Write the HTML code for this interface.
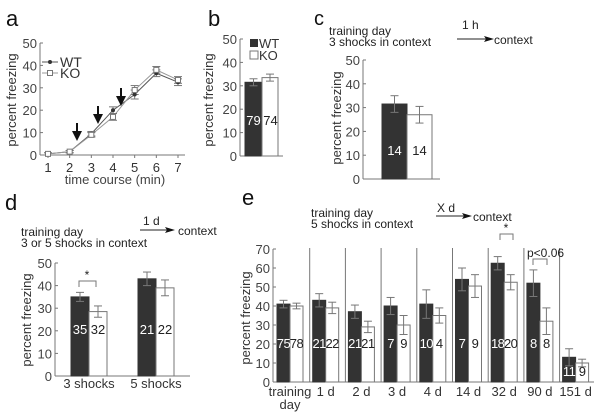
<!DOCTYPE html>
<html><head><meta charset="utf-8"><style>
body{margin:0;background:#fff}
svg{display:block;font-family:"Liberation Sans",sans-serif}
</style></head><body>
<svg id="fig" width="600" height="417" viewBox="0 0 600 417"></svg>
<script>
// Panel a
const aTimes=[1,2,3,4,5,6,7];
const aWT=[0.5,1.5,9.5,20,27,36.5,32.5];
const aKO=[0.5,1.5,9,17,29,38,33.5];
const aErr=[0.5,0.5,1,1.5,2,1.5,1.5];
// Panel b
const bVals=[31.5,33.5]; const bErr=[1.5,1.5]; const bN=["79","74"];
// Panel c
const cVals=[31.5,27]; const cErr=[3.5,3.5]; const cN=["14","14"];
// Panel d
const dCats=["3 shocks","5 shocks"];
const dWT=[35,43]; const dKO=[28.5,39];
const dWTerr=[2,3]; const dKOerr=[2.5,3.5];
const dWTn=["35","21"]; const dKOn=["32","22"];
// Panel e
const eCats=["training","1 d","2 d","3 d","4 d","14 d","32 d","90 d","151 d"];
const eWT=[41,43,37,40,41,54,62.5,52,13];
const eKO=[40,39,29,30,35,50.5,52.5,32,10];
const eWTerr=[2,3.5,3.5,4.5,7.5,6,3.5,7,4.5];
const eKOerr=[1.5,3,3,5,4,6,4,7,2];
const eWTn=["75","21","21","7","10","7","18","8","11"];
const eKOn=["78","22","21","9","4","9","20","8","9"];
const yTicks50=[0,10,20,30,40,50];
const yTicks70=[0,10,20,30,40,50,60,70];

const svg=document.getElementById('fig');
const NS="http://www.w3.org/2000/svg";
function el(tag,attrs,name,txt){const e=document.createElementNS(NS,tag);for(const k in attrs)e.setAttribute(k,attrs[k]);


if(txt!==undefined)e.textContent=txt;svg.appendChild(e);return e;}
const G="#777",DARK="#333";
function line(x1,y1,x2,y2,name,c,w){return el('line',{x1,y1,x2,y2,stroke:c||G,'stroke-width':w||1},name);}
function text(x,y,s,name,size,anchor,fill,extra){const a={x,y,'font-size':size||12,'text-anchor':anchor||'start',fill:fill||'#222'};Object.assign(a,extra||{});return el('text',a,name,s);}
function yAxis(x,yf,ticks,y0,y1,name){line(x,yf(y1),x,yf(y0),name+'-y-axis');ticks.forEach(t=>{line(x,yf(t),x+3,yf(t),name+'-y-tick');text(x-3,yf(t)+5,String(t),name+'-y-tick-label',13,'end','#444');});}
function ylab(x,y,name){text(0,0,'percent freezing',name,13,'middle','#333',{transform:`translate(${x},${y}) rotate(-90)`});}
function errbar(x,v,e,yf,name){line(x,yf(v+e),x,yf(v-e),name);line(x-4,yf(v+e),x+4,yf(v+e),name);line(x-4,yf(v-e),x+4,yf(v-e),name);}
function bar(x,w,v,yf,dark,name){el('rect',{x,y:yf(v),width:w,height:yf(0)-yf(v),fill:dark?DARK:'#fff',stroke:dark?DARK:G,'stroke-width':1},name);}
function arrow(x1,x2,y,name){line(x1,y,x2,y,name,'#222');el('polygon',{points:`${x2+8},${y} ${x2-2},${y-3} ${x2},${y} ${x2-2},${y+3}`,fill:'#111'},name+'-head');}

// ---- Panel a
text(6,26,'a','panel-a-label',22,'start','#111');
const ay=v=>155-v*(112/50), ax=t=>48+(t-1)*(130/6);
yAxis(40,ay,yTicks50,0,50,'a');
line(40,155,185,155,'a-x-axis');
aTimes.forEach(t=>{line(ax(t),155,ax(t),158,'a-x-tick');text(ax(t),172,String(t),'a-x-tick-label',13,'middle','#333');});
text(115,184,'time course (min)','a-x-axis-title',13,'middle','#444');
ylab(16,100,'a-y-axis-title');
const wtPts=aTimes.map((t,i)=>ax(t)+','+ay(aWT[i])).join(' ');
const koPts=aTimes.map((t,i)=>ax(t)+','+ay(aKO[i])).join(' ');
el('polyline',{points:wtPts,fill:'none',stroke:'#555','stroke-width':1},'wt-line');
el('polyline',{points:koPts,fill:'none',stroke:'#999','stroke-width':1},'ko-line');
aTimes.forEach((t,i)=>{errbar(ax(t),aWT[i],aErr[i],ay,'wt-error');errbar(ax(t),aKO[i],aErr[i],ay,'ko-error');
el('circle',{cx:ax(t),cy:ay(aWT[i]),r:2,fill:'#333'},'wt-point');
el('rect',{x:ax(t)-2.5,y:ay(aKO[i])-2.5,width:5,height:5,fill:'#fff',stroke:'#777'},'ko-point');});
[[77,139],[98,122],[121,104]].forEach(([x,y])=>{line(x,y-16,x,y-4,'shock-arrow','#111',2);el('polygon',{points:`${x-5},${y-8} ${x+5},${y-8} ${x},${y+2}`,fill:'#111'},'shock-arrow-head');});
line(42,62,58,62,'legend-wt-line','#555');el('circle',{cx:50,cy:62,r:2,fill:'#333'},'legend-wt-marker');text(60,67,'WT','legend-wt',14,'start','#333');
line(42,73,58,73,'legend-ko-line','#999');el('rect',{x:47.5,y:70.5,width:5,height:5,fill:'#fff',stroke:'#777'},'legend-ko-marker');text(60,78,'KO','legend-ko',14,'start','#333');

// ---- Panel b
text(208,26,'b','panel-b-label',22,'start','#111');
const by=v=>156-v*(117/50);
yAxis(240,by,yTicks50,0,50,'b');
line(240,156,283,156,'b-x-axis');
ylab(213,100,'b-y-axis-title');
bar(245,17,bVals[0],by,true,'bar-wt');bar(262,16,bVals[1],by,false,'bar-ko');
errbar(253.5,bVals[0],bErr[0],by,'b-wt-error');errbar(270,bVals[1],bErr[1],by,'b-ko-error');
text(253.5,125,bN[0],'b-wt-n',13,'middle','#fff');text(270.5,125,bN[1],'b-ko-n',13,'middle','#222');
el('rect',{x:250,y:39,width:8,height:8,fill:DARK},'legend-b-wt-swatch');text(259,48,'WT','legend-b-wt',13,'start','#333');
el('rect',{x:250,y:51,width:8,height:8,fill:'#fff',stroke:G},'legend-b-ko-swatch');text(259,60,'KO','legend-b-ko',13,'start','#333');

// ---- Panel c
text(314,25,'c','panel-c-label',20,'start','#111');
text(329,35,'training day','c-text-1',12);text(329,46,'3 shocks in context','c-text-2',12);
text(462,29,'1 h','c-arrow-label',12);arrow(457,486,39,'c-arrow');text(494,44,'context','c-context',12);
const cy=v=>179-v*(119/50);
yAxis(363,cy,yTicks50,0,50,'c');
line(363,179,440,179,'c-x-axis');
ylab(341,118,'c-y-axis-title');
bar(382,25,cVals[0],cy,true,'c-bar-wt');bar(407,25,cVals[1],cy,false,'c-bar-ko');
errbar(394.5,cVals[0],cErr[0],cy,'c-wt-error');errbar(419.5,cVals[1],cErr[1],cy,'c-ko-error');
text(394.5,155,cN[0],'c-wt-n',13,'middle','#fff');text(419.5,155,cN[1],'c-ko-n',13,'middle','#222');

// ---- Panel d
text(5,210,'d','panel-d-label',22,'start','#111');
text(21,236,'training day','d-text-1',12);text(21,247,'3 or 5 shocks in context','d-text-2',12);
text(143,225,'1 d','d-arrow-label',12);arrow(140,167,230,'d-arrow');text(178,235,'context','d-context',12);
const dy=v=>376-v*(113/50);
yAxis(55,dy,yTicks50,0,50,'d');
line(55,376,190,376,'d-x-axis');
ylab(31,320,'d-y-axis-title');
const dx=[71,138];
dCats.forEach((c,i)=>{bar(dx[i],18,dWT[i],dy,true,'d-bar-wt');bar(dx[i]+18,18,dKO[i],dy,false,'d-bar-ko');
errbar(dx[i]+9,dWT[i],dWTerr[i],dy,'d-wt-error');errbar(dx[i]+27,dKO[i],dKOerr[i],dy,'d-ko-error');
text(dx[i]+9,334,dWTn[i],'d-wt-n',13,'middle','#fff');text(dx[i]+27,334,dKOn[i],'d-ko-n',13,'middle','#222');
text(dx[i]+18,388,c,'d-x-label',13,'middle','#333');});
el('polyline',{points:'79,287 79,281 96,281 96,287',fill:'none',stroke:G},'d-sig-bracket');text(87,279,'*','d-sig-star',12,'middle');

// ---- Panel e
text(242,205,'e','panel-e-label',22,'start','#111');
text(311,217,'training day','e-text-1',12);text(311,228,'5 shocks in context','e-text-2',12);
text(437,212,'X d','e-arrow-label',12);arrow(436,464,216,'e-arrow');text(473,221,'context','e-context',12);
const ey=v=>382-v*(133/70);
yAxis(273,ey,yTicks70,0,70,'e');
ylab(250,318,'e-y-axis-title');
line(273,382,594,382,'e-x-axis');
const ex=i=>277+i*35.7;
eCats.forEach((c,i)=>{
 if(i>0)line(ex(i)-3,248,ex(i)-3,382,'e-group-separator');
 bar(ex(i),13,eWT[i],ey,true,'e-bar-wt');bar(ex(i)+13,13,eKO[i],ey,false,'e-bar-ko');
 errbar(ex(i)+6.5,eWT[i],eWTerr[i],ey,'e-wt-error');errbar(ex(i)+19.5,eKO[i],eKOerr[i],ey,'e-ko-error');
 const ny=i===8?376:348;
 text(ex(i)+6.5,ny,eWTn[i],'e-wt-n',13,'middle','#fff',{'letter-spacing':'-0.5'});text(ex(i)+19.5,ny,eKOn[i],'e-ko-n',13,'middle','#222',{'letter-spacing':'-0.5'});
 text(ex(i)+13,396,c,'e-x-label',13,'middle','#333');});
text(ex(0)+13,409,'day','e-x-label-day',13,'middle','#333');
el('polyline',{points:'500,240 500,234 513,234 513,240',fill:'none',stroke:G},'e-sig-bracket-32d');text(506,232,'*','e-sig-star',12,'middle');
el('polyline',{points:'533,265 533,259 547,259 547,265',fill:'none',stroke:G},'e-sig-bracket-90d');text(527,257,'p<0.06','e-p-value',12,'start');
</script>
</body></html>
